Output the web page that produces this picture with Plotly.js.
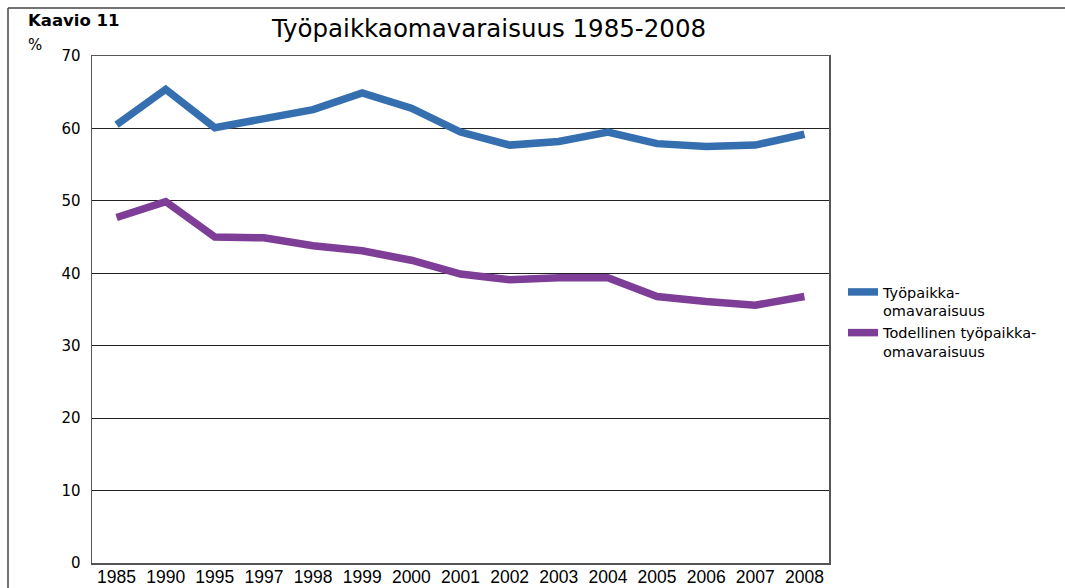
<!DOCTYPE html>
<html>
<head>
<meta charset="utf-8">
<script src="https://cdn.plot.ly/plotly-3.0.1.min.js"></script>
<style>html,body{margin:0;padding:0;background:#fff;}</style>
</head>
<body>
<div id="chart" style="width:1065px;height:588px;"></div>
<script>
const years = ["1985","1990","1995","1997","1998","1999","2000","2001","2002","2003","2004","2005","2006","2007","2008"];
const tyopaikka = [60.5, 65.4, 60.1, 61.3, 62.6, 64.9, 62.8, 59.5, 57.7, 58.2, 59.5, 57.9, 57.5, 57.7, 59.2];
const todellinen = [47.7, 49.9, 45.0, 44.9, 43.8, 43.1, 41.8, 39.9, 39.1, 39.4, 39.4, 36.8, 36.1, 35.6, 36.8];
const seriesNames = ["Työpaikka-<br>omavaraisuus", "Todellinen työpaikka-<br>omavaraisuus"];
const colors = ["#356fb0", "#7e3d96"];

const traces = [
  {x: years, y: tyopaikka, name: seriesNames[0], type: "scatter", mode: "lines",
   line: {color: colors[0], width: 7.5}},
  {x: years, y: todellinen, name: seriesNames[1], type: "scatter", mode: "lines",
   line: {color: colors[1], width: 7.5}}
];

const L = 92, R = 829, T = 56, B = 563;
const pw = R - L, ph = B - T;
const px = v => (v - L) / pw;
const py = v => 1 - (v - T) / ph;

const layout = {
  width: 1065, height: 588,
  margin: {l: L, r: 1065 - R, t: T, b: 588 - B, pad: 0},
  paper_bgcolor: "#fff", plot_bgcolor: "#fff",
  font: {family: "DejaVu Sans, Verdana, sans-serif", color: "#000", size: 15},
  title: {text: "Työpaikkaomavaraisuus 1985-2008", font: {size: 24.5, family: "DejaVu Sans, sans-serif", color: "#000"},
          x: px(489), xref: "paper", xanchor: "center", y: 1 - 28/588, yanchor: "middle"},
  showlegend: true,
  legend: {x: px(843), y: py(276), xanchor: "left", yanchor: "top", valign: "top",
           font: {size: 14.5, family: "DejaVu Sans, sans-serif", color: "#000"},
           bgcolor: "rgba(0,0,0,0)", tracegroupgap: 0, itemwidth: 30},
  xaxis: {type: "category", range: [-0.5, 14.5], showgrid: false, ticks: "",
          showline: true, mirror: true, linecolor: "#555", linewidth: 1.5,
          tickangle: 0, ticklabelstandoff: -3,
          tickfont: {family: "Liberation Sans, Arial, sans-serif", size: 17.5}},
  yaxis: {range: [0, 70], dtick: 10, showgrid: true, gridcolor: "#222", gridwidth: 1.2,
          zeroline: false, showline: true, mirror: true, linecolor: "#555", linewidth: 1.5,
          ticks: "", ticklabelstandoff: 7,
          tickfont: {family: "DejaVu Sans, Verdana, sans-serif", size: 15}},
  shapes: [
    {type: "line", xref: "paper", yref: "paper", x0: px(8), x1: px(1066), y0: py(8), y1: py(8),
     line: {color: "#444", width: 1.5}},
    {type: "line", xref: "paper", yref: "paper", x0: px(8), x1: px(8), y0: py(8), y1: py(590),
     line: {color: "#444", width: 1.5}}
  ],
  annotations: [
    {text: "<b>Kaavio 11</b>", xref: "paper", yref: "paper", x: px(26), y: py(20),
     xanchor: "left", yanchor: "middle", showarrow: false,
     font: {size: 16.5, family: "DejaVu Sans, Verdana, sans-serif", color: "#000"}},
    {text: "%", xref: "paper", yref: "paper", x: px(26), y: py(45),
     xanchor: "left", yanchor: "middle", showarrow: false,
     font: {size: 15, family: "DejaVu Sans, Verdana, sans-serif", color: "#000"}}
  ]
};

Plotly.newPlot("chart", traces, layout, {displayModeBar: false, staticPlot: true});
</script>
</body>
</html>
